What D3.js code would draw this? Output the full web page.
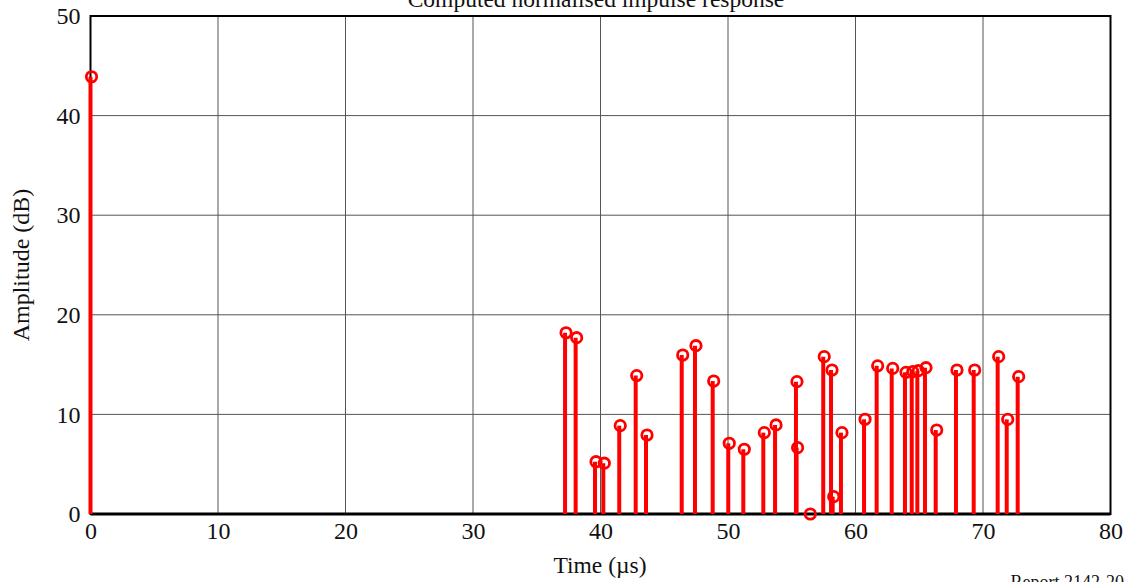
<!DOCTYPE html>
<html>
<head>
<meta charset="utf-8">
<script src="https://cdn.jsdelivr.net/npm/d3@7"></script>
<style>
  html, body { margin: 0; padding: 0; background: #fff; }
  svg { display: block; }
  text { font-family: "Liberation Serif", "Times New Roman", serif; fill: #111; }
</style>
</head>
<body>
<svg id="chart" width="1135" height="582"></svg>
<script>
// Arrival times of each path (µs) and their amplitudes (dB)
const times = [
  0, 37.22, 38.05, 39.57, 40.22, 41.47, 42.76, 43.57, 46.37, 47.41, 48.80,
  50.02, 51.20, 52.77, 53.69, 55.33, 55.38, 56.38, 57.47, 58.08, 58.21, 58.86,
  60.67, 61.66, 62.84, 63.88, 64.41, 64.85, 65.45, 66.29, 67.88, 69.27,
  71.15, 71.86, 72.72
];
const amplitudes = [
  43.9, 18.2, 17.7, 5.25, 5.1, 8.87, 13.9, 7.93, 15.96, 16.9, 13.35,
  7.1, 6.5, 8.17, 8.94, 13.29, 6.66, 0.0, 15.8, 14.46, 1.74, 8.17,
  9.51, 14.88, 14.62, 14.22, 14.29, 14.39, 14.69, 8.43, 14.46, 14.46,
  15.8, 9.5, 13.79
];
const xTicks = [0, 10, 20, 30, 40, 50, 60, 70, 80];
const yTicks = [0, 10, 20, 30, 40, 50];

const titleText = "Computed normalised impulse response";
const xLabel = "Time (\u00b5s)";
const yLabel = "Amplitude (dB)";
const noteText = "Report 2142-20";

const svg = d3.select("#chart");
const W = 1135, H = 582;
const margin = { left: 90.5, right: W - 1110.5, top: 16, bottom: H - 514 };

const x = d3.scaleLinear().domain([0, 80]).range([margin.left, W - margin.right]);
const y = d3.scaleLinear().domain([0, 50]).range([H - margin.bottom, margin.top]);

// grid
const grid = svg.append("g");
grid.selectAll("line.gx").data(xTicks.slice(1, -1)).join("line")
  .attr("x1", d => x(d)).attr("x2", d => x(d))
  .attr("y1", y(0)).attr("y2", y(50))
  .attr("stroke", "#555").attr("stroke-width", 1);
grid.selectAll("line.gy").data(yTicks.slice(1, -1)).join("line")
  .attr("x1", x(0)).attr("x2", x(80))
  .attr("y1", d => y(d)).attr("y2", d => y(d))
  .attr("stroke", "#555").attr("stroke-width", 1);

// axes (labels only; frame drawn separately)
const xAxis = d3.axisBottom(x).tickValues(xTicks).tickSize(0).tickPadding(8);
const gx = svg.append("g").attr("transform", `translate(0,${y(0)})`).call(xAxis);
gx.select(".domain").remove();
gx.selectAll("text").attr("font-size", 24).attr("font-family", "Liberation Serif").attr("fill", "#111");

const yAxis = d3.axisLeft(y).tickValues(yTicks).tickSize(0).tickPadding(10);
const gy = svg.append("g").attr("transform", `translate(${x(0)},0)`).call(yAxis);
gy.select(".domain").remove();
gy.selectAll("text").attr("font-size", 24).attr("font-family", "Liberation Serif").attr("fill", "#111");

// frame
svg.append("rect")
  .attr("x", x(0)).attr("y", y(50))
  .attr("width", x(80) - x(0)).attr("height", y(0) - y(50))
  .attr("fill", "none").attr("stroke", "#000").attr("stroke-width", 2);
svg.append("line")
  .attr("x1", x(0)).attr("x2", x(80)).attr("y1", y(0)).attr("y2", y(0))
  .attr("stroke", "#000").attr("stroke-width", 3);

// stems with open circle markers
const data = times.map((t, i) => ({ t, a: amplitudes[i] }));
svg.append("g").selectAll("line").data(data).join("line")
  .attr("x1", d => x(d.t)).attr("x2", d => x(d.t))
  .attr("y1", y(0)).attr("y2", d => y(d.a))
  .attr("stroke", "#ff0000").attr("stroke-width", 4);
svg.append("g").selectAll("circle").data(data).join("circle")
  .attr("cx", d => x(d.t) + 1).attr("cy", d => y(d.a))
  .attr("r", 5.2)
  .attr("fill", "none").attr("stroke", "#ff0000").attr("stroke-width", 2.8);

// titles
svg.append("text").attr("x", 596).attr("y", 6.5)
  .attr("text-anchor", "middle").attr("font-size", 23.5).text(titleText);
svg.append("text").attr("x", 600).attr("y", 573)
  .attr("text-anchor", "middle").attr("font-size", 23.5).text(xLabel);
svg.append("text")
  .attr("transform", `translate(29,${(y(0) + y(50)) / 2}) rotate(-90)`)
  .attr("text-anchor", "middle").attr("font-size", 24).text(yLabel);
svg.append("text").attr("x", 1124).attr("y", 588)
  .attr("text-anchor", "end").attr("font-size", 18).text(noteText);
</script>
</body>
</html>
